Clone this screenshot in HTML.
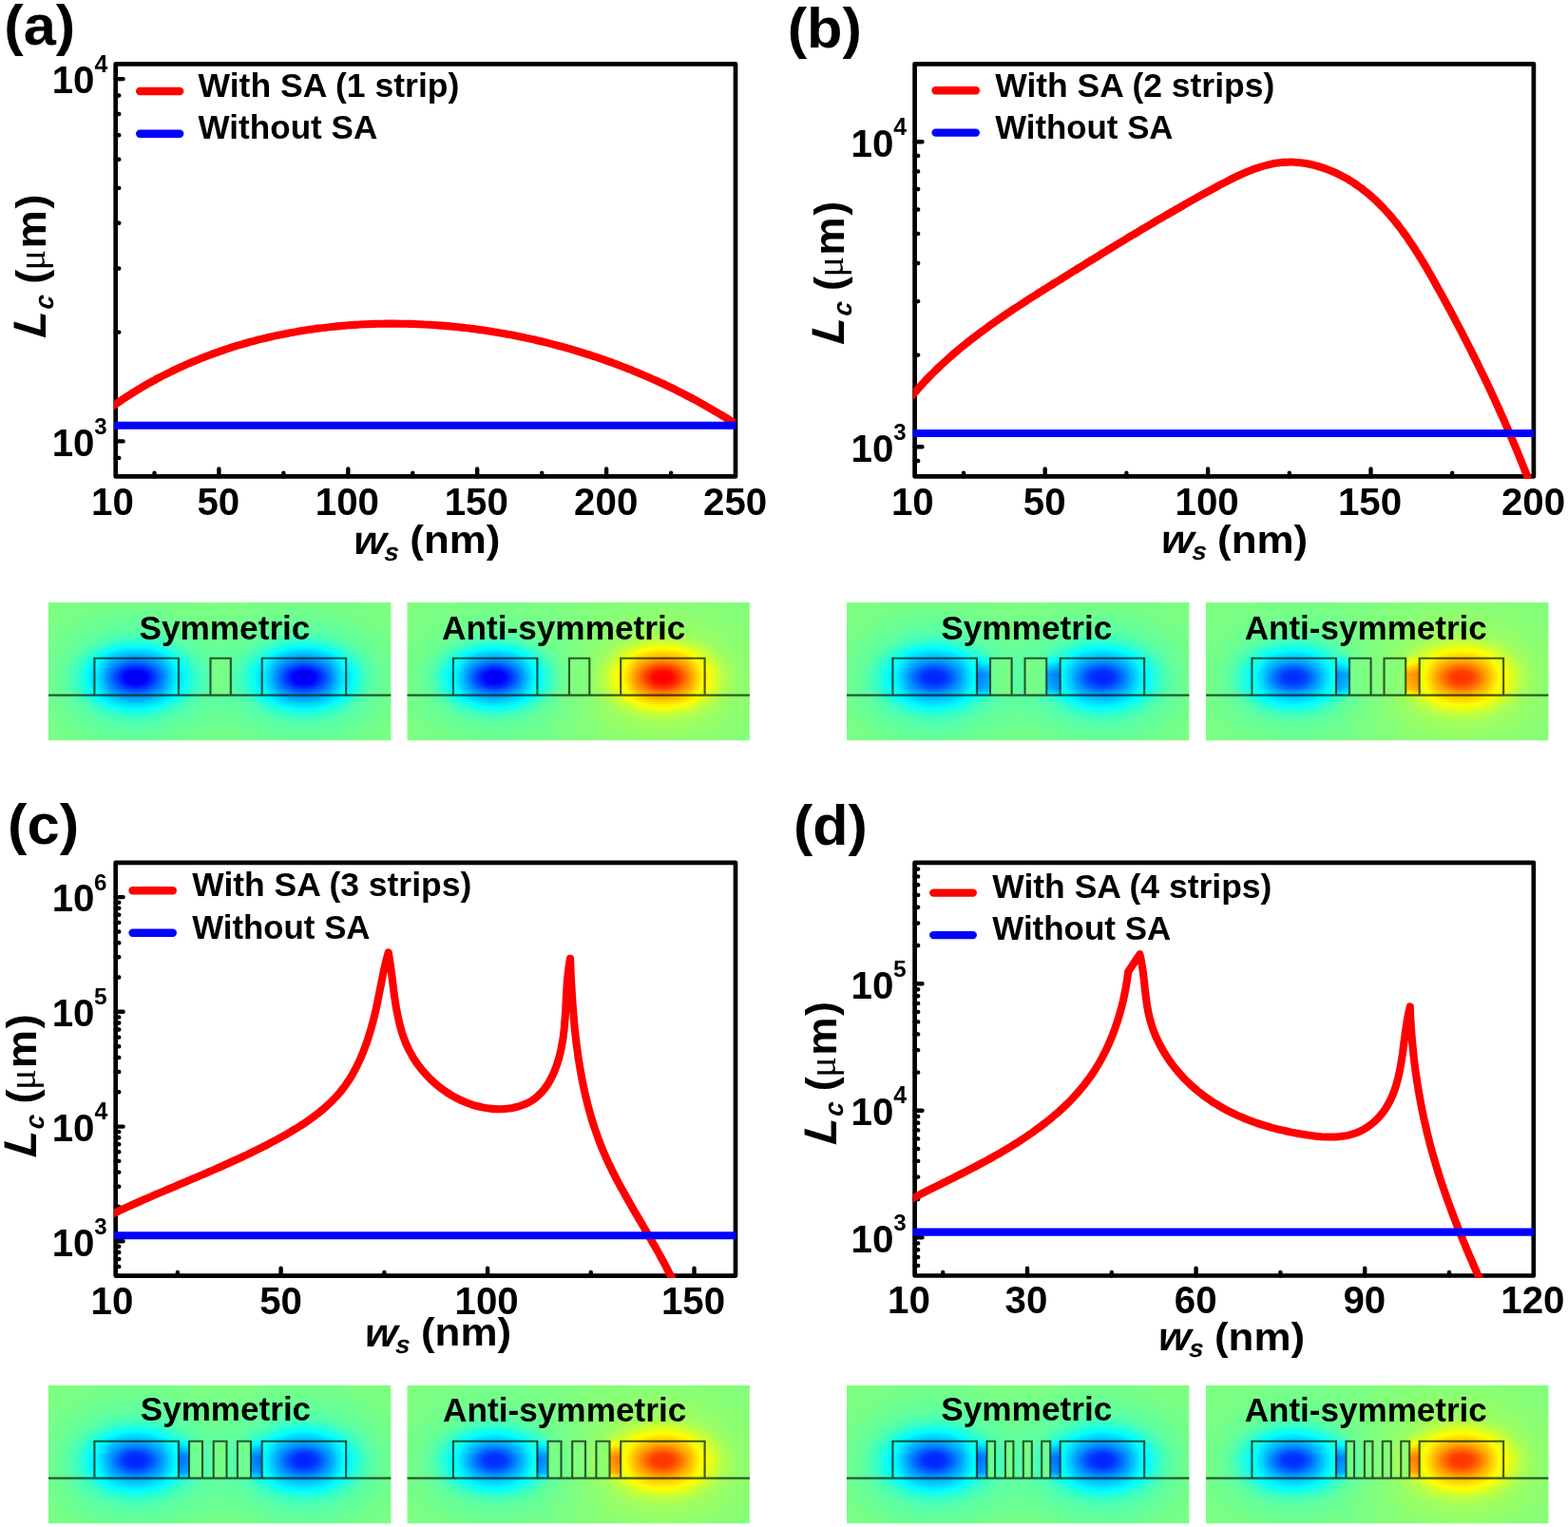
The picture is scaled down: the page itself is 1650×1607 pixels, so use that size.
<!DOCTYPE html>
<html lang="en"><head><meta charset="utf-8"><title>Coupling length versus strip width</title>
<style>html,body{margin:0;padding:0;background:#fff}svg{display:block}text{white-space:pre}</style></head><body>
<svg width="1650" height="1607" viewBox="0 0 1650 1607">
<rect width="1650" height="1607" fill="#fff"/>
<defs>
<filter id="jet" x="0" y="0" width="1" height="1" color-interpolation-filters="sRGB"><feComponentTransfer><feFuncR type="table" tableValues="0.000 0.000 0.000 0.000 0.000 0.000 0.000 0.250 0.500 0.750 1.000 1.000 1.000 1.000 1.000 0.750 0.500"/><feFuncG type="table" tableValues="0.000 0.000 0.000 0.250 0.500 0.750 1.000 1.000 1.000 1.000 1.000 0.750 0.500 0.250 0.000 0.000 0.000"/><feFuncB type="table" tableValues="0.500 0.750 1.000 1.000 1.000 1.000 1.000 0.750 0.500 0.250 0.000 0.000 0.000 0.000 0.000 0.000 0.000"/></feComponentTransfer></filter>
<radialGradient id="gneg" cx="0.5" cy="0.5" r="0.5">
<stop offset="0.000" stop-color="#000" stop-opacity="0.740"/>
<stop offset="0.075" stop-color="#000" stop-opacity="0.735"/>
<stop offset="0.138" stop-color="#000" stop-opacity="0.710"/>
<stop offset="0.225" stop-color="#000" stop-opacity="0.600"/>
<stop offset="0.338" stop-color="#000" stop-opacity="0.440"/>
<stop offset="0.450" stop-color="#000" stop-opacity="0.325"/>
<stop offset="0.575" stop-color="#000" stop-opacity="0.220"/>
<stop offset="0.662" stop-color="#000" stop-opacity="0.152"/>
<stop offset="0.738" stop-color="#000" stop-opacity="0.090"/>
<stop offset="0.850" stop-color="#000" stop-opacity="0.032"/>
<stop offset="1.000" stop-color="#000" stop-opacity="0.000"/>
</radialGradient>
<radialGradient id="gneg-tail" cx="0.5" cy="0.5" r="0.5">
<stop offset="0.000" stop-color="#000" stop-opacity="0.170"/>
<stop offset="0.053" stop-color="#000" stop-opacity="0.167"/>
<stop offset="0.105" stop-color="#000" stop-opacity="0.158"/>
<stop offset="0.158" stop-color="#000" stop-opacity="0.145"/>
<stop offset="0.210" stop-color="#000" stop-opacity="0.128"/>
<stop offset="0.263" stop-color="#000" stop-opacity="0.108"/>
<stop offset="0.316" stop-color="#000" stop-opacity="0.089"/>
<stop offset="0.368" stop-color="#000" stop-opacity="0.070"/>
<stop offset="0.421" stop-color="#000" stop-opacity="0.053"/>
<stop offset="0.474" stop-color="#000" stop-opacity="0.038"/>
<stop offset="0.526" stop-color="#000" stop-opacity="0.026"/>
<stop offset="0.579" stop-color="#000" stop-opacity="0.018"/>
<stop offset="0.632" stop-color="#000" stop-opacity="0.011"/>
<stop offset="0.684" stop-color="#000" stop-opacity="0.007"/>
<stop offset="0.737" stop-color="#000" stop-opacity="0.004"/>
<stop offset="0.789" stop-color="#000" stop-opacity="0.002"/>
<stop offset="0.842" stop-color="#000" stop-opacity="0.001"/>
<stop offset="0.895" stop-color="#000" stop-opacity="0.000"/>
<stop offset="0.947" stop-color="#000" stop-opacity="0.000"/>
<stop offset="1.000" stop-color="#000" stop-opacity="0.000"/>
</radialGradient>
<linearGradient id="gneg-gap" x1="0" y1="0" x2="0" y2="1">
<stop offset="0.000" stop-color="#000" stop-opacity="0.000"/>
<stop offset="0.150" stop-color="#000" stop-opacity="0.250"/>
<stop offset="0.500" stop-color="#000" stop-opacity="1.000"/>
<stop offset="0.850" stop-color="#000" stop-opacity="0.800"/>
<stop offset="1.000" stop-color="#000" stop-opacity="0.300"/>
</linearGradient>
<radialGradient id="gpos" cx="0.5" cy="0.5" r="0.5">
<stop offset="0.000" stop-color="#fff" stop-opacity="0.740"/>
<stop offset="0.075" stop-color="#fff" stop-opacity="0.735"/>
<stop offset="0.138" stop-color="#fff" stop-opacity="0.710"/>
<stop offset="0.225" stop-color="#fff" stop-opacity="0.600"/>
<stop offset="0.338" stop-color="#fff" stop-opacity="0.440"/>
<stop offset="0.450" stop-color="#fff" stop-opacity="0.325"/>
<stop offset="0.575" stop-color="#fff" stop-opacity="0.220"/>
<stop offset="0.662" stop-color="#fff" stop-opacity="0.152"/>
<stop offset="0.738" stop-color="#fff" stop-opacity="0.090"/>
<stop offset="0.850" stop-color="#fff" stop-opacity="0.032"/>
<stop offset="1.000" stop-color="#fff" stop-opacity="0.000"/>
</radialGradient>
<radialGradient id="gpos-tail" cx="0.5" cy="0.5" r="0.5">
<stop offset="0.000" stop-color="#fff" stop-opacity="0.170"/>
<stop offset="0.053" stop-color="#fff" stop-opacity="0.167"/>
<stop offset="0.105" stop-color="#fff" stop-opacity="0.158"/>
<stop offset="0.158" stop-color="#fff" stop-opacity="0.145"/>
<stop offset="0.210" stop-color="#fff" stop-opacity="0.128"/>
<stop offset="0.263" stop-color="#fff" stop-opacity="0.108"/>
<stop offset="0.316" stop-color="#fff" stop-opacity="0.089"/>
<stop offset="0.368" stop-color="#fff" stop-opacity="0.070"/>
<stop offset="0.421" stop-color="#fff" stop-opacity="0.053"/>
<stop offset="0.474" stop-color="#fff" stop-opacity="0.038"/>
<stop offset="0.526" stop-color="#fff" stop-opacity="0.026"/>
<stop offset="0.579" stop-color="#fff" stop-opacity="0.018"/>
<stop offset="0.632" stop-color="#fff" stop-opacity="0.011"/>
<stop offset="0.684" stop-color="#fff" stop-opacity="0.007"/>
<stop offset="0.737" stop-color="#fff" stop-opacity="0.004"/>
<stop offset="0.789" stop-color="#fff" stop-opacity="0.002"/>
<stop offset="0.842" stop-color="#fff" stop-opacity="0.001"/>
<stop offset="0.895" stop-color="#fff" stop-opacity="0.000"/>
<stop offset="0.947" stop-color="#fff" stop-opacity="0.000"/>
<stop offset="1.000" stop-color="#fff" stop-opacity="0.000"/>
</radialGradient>
<linearGradient id="gpos-gap" x1="0" y1="0" x2="0" y2="1">
<stop offset="0.000" stop-color="#fff" stop-opacity="0.000"/>
<stop offset="0.150" stop-color="#fff" stop-opacity="0.250"/>
<stop offset="0.500" stop-color="#fff" stop-opacity="1.000"/>
<stop offset="0.850" stop-color="#fff" stop-opacity="0.800"/>
<stop offset="1.000" stop-color="#fff" stop-opacity="0.300"/>
</linearGradient>
<linearGradient id="wgdamp" x1="0" y1="0" x2="1" y2="0">
<stop offset="0.000" stop-color="#808080" stop-opacity="0.200"/>
<stop offset="0.080" stop-color="#808080" stop-opacity="0.120"/>
<stop offset="0.200" stop-color="#808080" stop-opacity="0.000"/>
<stop offset="0.800" stop-color="#808080" stop-opacity="0.000"/>
<stop offset="0.920" stop-color="#808080" stop-opacity="0.120"/>
<stop offset="1.000" stop-color="#808080" stop-opacity="0.200"/>
</linearGradient>
</defs>
<g id="panel-a">
<clipPath id="clipa"><rect x="119.9" y="67.3" width="654.3" height="436.4"/></clipPath>
<path d="M230.4 501.4v-7.9M366.3 501.4v-7.9M502.2 501.4v-7.9M638.1 501.4v-7.9M162.5 501.4v-3.6M298.4 501.4v-3.6M434.3 501.4v-3.6M570.2 501.4v-3.6M706.1 501.4v-3.6M121.7 481.9h3.6M121.7 464.4h7.9M121.7 349.6h3.6M121.7 282.5h3.6M121.7 234.8h3.6M121.7 197.9h3.6M121.7 167.7h3.6M121.7 142.2h3.6M121.7 120.0h3.6M121.7 100.5h3.6M121.7 83.1h7.9" stroke="#000" stroke-width="4.4" stroke-linecap="round" fill="none"/>
<rect x="121.7" y="67.3" width="652.3" height="434.1" fill="none" stroke="#000" stroke-width="4.7" stroke-linejoin="round"/>
<g clip-path="url(#clipa)" fill="none" stroke-linejoin="round" stroke-miterlimit="4">
<path d="M118.0 427.8L122.0 425.1C122.9 424.5 125.4 422.8 127.1 421.6C128.8 420.5 130.5 419.3 132.2 418.2C134.0 417.1 135.7 416.0 137.4 414.9C139.1 413.8 140.9 412.7 142.6 411.6C144.4 410.5 146.1 409.5 147.9 408.4C149.6 407.4 151.4 406.4 153.2 405.3C154.9 404.3 156.7 403.3 158.5 402.3C160.3 401.3 162.1 400.4 163.8 399.4C165.6 398.4 167.4 397.5 169.2 396.5C171.0 395.6 172.8 394.7 174.7 393.8C176.5 392.8 178.3 391.9 180.1 391.1C181.9 390.2 183.8 389.3 185.6 388.4C187.4 387.6 189.3 386.7 191.1 385.9C192.9 385.0 194.8 384.2 196.6 383.4C198.5 382.6 200.3 381.8 202.2 381.0C204.1 380.2 205.9 379.4 207.8 378.7C209.7 377.9 211.6 377.2 213.4 376.4C215.3 375.7 217.2 374.9 219.1 374.2C221.0 373.5 222.9 372.8 224.8 372.1C226.7 371.4 228.6 370.8 230.5 370.1C232.4 369.4 234.3 368.8 236.2 368.1C238.1 367.5 240.0 366.9 241.9 366.2C243.9 365.6 245.8 365.0 247.7 364.4C249.7 363.8 251.6 363.2 253.5 362.7C255.5 362.1 257.4 361.5 259.3 361.0C261.3 360.4 263.2 359.9 265.2 359.4C267.1 358.9 269.1 358.4 271.0 357.8C273.0 357.3 275.0 356.9 276.9 356.4C278.9 355.9 280.8 355.4 282.8 355.0C284.8 354.5 286.7 354.1 288.7 353.6C290.7 353.2 292.7 352.8 294.7 352.4C296.6 352.0 298.6 351.6 300.6 351.2C302.6 350.8 304.6 350.4 306.6 350.1C308.6 349.7 310.5 349.3 312.5 349.0C314.5 348.6 316.5 348.3 318.5 348.0C320.5 347.7 322.5 347.4 324.5 347.1C326.5 346.8 328.5 346.5 330.5 346.2C332.6 345.9 334.6 345.6 336.6 345.4C338.6 345.1 340.6 344.9 342.6 344.7C344.6 344.4 346.6 344.2 348.7 344.0C350.7 343.8 352.7 343.6 354.7 343.4C356.7 343.2 358.8 343.0 360.8 342.8C362.8 342.6 364.8 342.5 366.9 342.3C368.9 342.2 370.9 342.0 373.0 341.9C375.0 341.8 377.0 341.6 379.0 341.5C381.1 341.4 383.1 341.3 385.1 341.2C387.2 341.1 389.2 341.1 391.2 341.0C393.3 340.9 395.3 340.9 397.3 340.8C399.4 340.8 401.4 340.7 403.5 340.7C405.5 340.7 407.5 340.6 409.6 340.6C411.6 340.6 413.6 340.6 415.7 340.6C417.7 340.6 419.8 340.6 421.8 340.7C423.8 340.7 425.9 340.7 427.9 340.8C430.0 340.8 432.0 340.9 434.0 340.9C436.1 341.0 438.1 341.1 440.1 341.2C442.2 341.3 444.2 341.3 446.3 341.5C448.3 341.6 450.3 341.7 452.4 341.8C454.4 341.9 456.4 342.0 458.5 342.2C460.5 342.3 462.6 342.5 464.6 342.6C466.6 342.8 468.7 343.0 470.7 343.1C472.7 343.3 474.8 343.5 476.8 343.7C478.8 343.9 480.9 344.1 482.9 344.3C484.9 344.5 486.9 344.8 489.0 345.0C491.0 345.2 493.0 345.5 495.1 345.7C497.1 346.0 499.1 346.2 501.1 346.5C503.2 346.8 505.2 347.0 507.2 347.3C509.2 347.6 511.2 347.9 513.3 348.2C515.3 348.5 517.3 348.8 519.3 349.2C521.3 349.5 523.3 349.8 525.4 350.2C527.4 350.5 529.4 350.9 531.4 351.2C533.4 351.6 535.4 352.0 537.4 352.3C539.4 352.7 541.4 353.1 543.4 353.5C545.4 353.9 547.4 354.3 549.4 354.7C551.4 355.1 553.4 355.6 555.4 356.0C557.4 356.4 559.4 356.9 561.4 357.3C563.4 357.8 565.4 358.2 567.4 358.7C569.3 359.2 571.3 359.6 573.3 360.1C575.3 360.6 577.3 361.1 579.2 361.6C581.2 362.1 583.2 362.6 585.2 363.2C587.1 363.7 589.1 364.2 591.1 364.7C593.0 365.3 595.0 365.8 597.0 366.4C598.9 366.9 600.9 367.5 602.8 368.1C604.8 368.7 606.8 369.2 608.7 369.8C610.7 370.4 612.6 371.0 614.5 371.6C616.5 372.2 618.4 372.9 620.4 373.5C622.3 374.1 624.2 374.8 626.2 375.4C628.1 376.0 630.0 376.7 632.0 377.4C633.9 378.0 635.8 378.7 637.7 379.4C639.6 380.0 641.6 380.7 643.5 381.4C645.4 382.1 647.3 382.8 649.2 383.5C651.1 384.3 653.0 385.0 654.9 385.7C656.8 386.4 658.7 387.2 660.6 387.9C662.5 388.7 664.4 389.4 666.2 390.2C668.1 390.9 670.0 391.7 671.9 392.5C673.8 393.3 675.6 394.1 677.5 394.9C679.4 395.7 681.2 396.5 683.1 397.3C684.9 398.1 686.8 398.9 688.6 399.8C690.5 400.6 692.3 401.4 694.2 402.3C696.0 403.1 697.9 404.0 699.7 404.8C701.5 405.7 703.3 406.6 705.2 407.5C707.0 408.3 708.8 409.2 710.6 410.1C712.4 411.0 714.3 411.9 716.1 412.9C717.9 413.8 719.7 414.7 721.5 415.6C723.3 416.6 725.0 417.5 726.8 418.4C728.6 419.4 730.4 420.3 732.2 421.3C734.0 422.3 735.7 423.2 737.5 424.2C739.3 425.2 741.0 426.2 742.8 427.2C744.5 428.2 746.3 429.2 748.0 430.2C749.8 431.2 751.5 432.2 753.2 433.3C755.0 434.3 756.7 435.3 758.4 436.4C760.2 437.4 761.9 438.5 763.6 439.5C765.3 440.6 767.0 441.7 768.7 442.7C770.4 443.8 773.0 445.5 773.8 446.0" stroke="#ff0000" stroke-width="8.1"/>
<path d="M118.7 447.7H777.0" stroke="#0000ff" stroke-width="8.1"/>
</g>
<g fill="#000">
<text transform="translate(96.03 541.90) scale(0.9900 1)" font-family="Liberation Sans, Arial, Helvetica, sans-serif" font-weight="bold" font-size="40.70">10</text>
<text transform="translate(207.46 541.90) scale(0.9900 1)" font-family="Liberation Sans, Arial, Helvetica, sans-serif" font-weight="bold" font-size="40.70">50</text>
<text transform="translate(331.76 541.90) scale(0.9900 1)" font-family="Liberation Sans, Arial, Helvetica, sans-serif" font-weight="bold" font-size="40.70">100</text>
<text transform="translate(467.66 541.90) scale(0.9900 1)" font-family="Liberation Sans, Arial, Helvetica, sans-serif" font-weight="bold" font-size="40.70">150</text>
<text transform="translate(604.11 541.90) scale(0.9900 1)" font-family="Liberation Sans, Arial, Helvetica, sans-serif" font-weight="bold" font-size="40.70">200</text>
<text transform="translate(740.01 541.90) scale(0.9900 1)" font-family="Liberation Sans, Arial, Helvetica, sans-serif" font-weight="bold" font-size="40.70">250</text>
<text transform="translate(54.69 479.74) scale(0.9900 1)" font-family="Liberation Sans, Arial, Helvetica, sans-serif" font-weight="bold" font-size="40.70">10<tspan x="45.02" y="-22.90" font-family="Liberation Sans, Arial, Helvetica, sans-serif" font-weight="bold" font-size="24.37">3</tspan></text>
<text transform="translate(54.69 98.39) scale(0.9900 1)" font-family="Liberation Sans, Arial, Helvetica, sans-serif" font-weight="bold" font-size="40.70">10<tspan x="45.19" y="-22.60" font-family="Liberation Sans, Arial, Helvetica, sans-serif" font-weight="bold" font-size="25.16">4</tspan></text>
</g>
<g fill="none" stroke-linecap="round" stroke-width="8.4">
<path d="M147.2 96.0H189.2" stroke="#ff0000"/>
<path d="M147.2 140.7H189.2" stroke="#0000ff"/>
</g>
<g fill="#000">
<text transform="translate(208.50 102.10) scale(1.0017 1)" font-family="Liberation Sans, Arial, Helvetica, sans-serif" font-weight="bold" font-size="35.50">With SA (1 strip)</text>
<text transform="translate(208.50 146.40) scale(0.9889 1)" font-family="Liberation Sans, Arial, Helvetica, sans-serif" font-weight="bold" font-size="35.50">Without SA</text>
<text transform="translate(4.23 46.70) scale(1.0404 1)" font-family="Liberation Sans, Arial, Helvetica, sans-serif" font-weight="bold" font-size="59.00">(a)</text>
<text transform="translate(371.26 582.70) scale(1.0427 1) skewX(-4.00)" font-family="Liberation Sans, Arial, Helvetica, sans-serif" font-weight="bold" font-style="italic" font-size="42.09">w<tspan x="32.02" y="7.34" font-family="Liberation Sans, Arial, Helvetica, sans-serif" font-weight="bold" font-style="italic" font-size="26.48">s</tspan></text>
<text transform="translate(431.30 582.19) scale(1.0583 1)" font-family="Liberation Sans, Arial, Helvetica, sans-serif" font-weight="bold" font-size="41.50">(nm)</text>
<text transform="translate(48.20 355.91) rotate(-90) scale(0.9403 1) skewX(-7.50)" font-family="Liberation Sans, Arial, Helvetica, sans-serif" font-weight="bold" font-style="italic" font-size="48.58">L<tspan x="32.56" y="7.42" font-family="Liberation Sans, Arial, Helvetica, sans-serif" font-weight="bold" font-style="italic" font-size="28.31">c</tspan></text>
<text transform="translate(47.64 298.86) rotate(-90) scale(1.0133 1)" font-family="Liberation Sans, Arial, Helvetica, sans-serif" font-weight="bold" font-size="44.61">(<tspan x="14.25" y="-0.28" font-family="Liberation Serif, Times New Roman, serif" font-weight="normal" font-size="39.70">μ</tspan><tspan x="36.83" y="0.36" font-family="Liberation Sans, Arial, Helvetica, sans-serif" font-weight="bold" font-size="44.65">m</tspan><tspan x="78.21" y="0.00" font-family="Liberation Sans, Arial, Helvetica, sans-serif" font-weight="bold" font-size="44.61">)</tspan></text>
</g>
</g>
<g id="panel-b">
<clipPath id="clipb"><rect x="960.8" y="67.3" width="653.3" height="436.4"/></clipPath>
<path d="M1099.7 501.4v-7.9M1271.1 501.4v-7.9M1442.5 501.4v-7.9M1014.0 501.4v-3.6M1185.4 501.4v-3.6M1356.8 501.4v-3.6M1528.2 501.4v-3.6M962.6 485.0h3.6M962.6 470.3h7.9M962.6 373.6h3.6M962.6 317.1h3.6M962.6 277.0h3.6M962.6 245.9h3.6M962.6 220.5h3.6M962.6 199.0h3.6M962.6 180.4h3.6M962.6 163.9h3.6M962.6 149.3h7.9" stroke="#000" stroke-width="4.4" stroke-linecap="round" fill="none"/>
<rect x="962.6" y="67.3" width="651.3" height="434.1" fill="none" stroke="#000" stroke-width="4.7" stroke-linejoin="round"/>
<g clip-path="url(#clipb)" fill="none" stroke-linejoin="round" stroke-miterlimit="4">
<path d="M958.6 417.8L962.6 413.2C963.3 412.4 965.3 410.1 966.6 408.6C967.9 407.1 969.3 405.6 970.7 404.1C972.0 402.6 973.4 401.1 974.8 399.6C976.2 398.1 977.6 396.7 979.0 395.2C980.5 393.8 981.9 392.4 983.3 391.0C984.8 389.5 986.2 388.1 987.7 386.7C989.2 385.3 990.6 384.0 992.1 382.6C993.6 381.2 995.1 379.8 996.6 378.5C998.1 377.1 999.6 375.8 1001.1 374.5C1002.7 373.2 1004.2 371.8 1005.7 370.5C1007.3 369.2 1008.8 367.9 1010.4 366.6C1011.9 365.3 1013.5 364.1 1015.1 362.8C1016.7 361.5 1018.2 360.3 1019.8 359.0C1021.4 357.8 1023.0 356.5 1024.6 355.3C1026.2 354.0 1027.8 352.8 1029.5 351.6C1031.1 350.4 1032.7 349.2 1034.3 348.0C1036.0 346.8 1037.6 345.6 1039.2 344.4C1040.9 343.2 1042.5 342.0 1044.2 340.8C1045.8 339.7 1047.5 338.5 1049.2 337.3C1050.8 336.2 1052.5 335.0 1054.2 333.9C1055.8 332.7 1057.5 331.6 1059.2 330.4C1060.9 329.3 1062.6 328.2 1064.2 327.0C1065.9 325.9 1067.6 324.8 1069.3 323.7C1071.0 322.6 1072.7 321.4 1074.4 320.3C1076.1 319.2 1077.8 318.1 1079.5 317.0C1081.2 315.9 1082.9 314.8 1084.6 313.7C1086.3 312.6 1088.1 311.5 1089.8 310.5C1091.5 309.4 1093.2 308.3 1094.9 307.2C1096.6 306.1 1098.3 305.0 1100.0 304.0C1101.8 302.9 1103.5 301.8 1105.2 300.7C1106.9 299.7 1108.6 298.6 1110.3 297.5C1112.0 296.5 1113.8 295.4 1115.5 294.3C1117.2 293.2 1118.9 292.2 1120.6 291.1C1122.3 290.0 1124.0 289.0 1125.7 287.9C1127.4 286.9 1129.2 285.8 1130.9 284.7C1132.6 283.7 1134.3 282.6 1136.0 281.5C1137.7 280.5 1139.4 279.4 1141.1 278.4C1142.8 277.3 1144.5 276.3 1146.2 275.2C1147.9 274.1 1149.6 273.1 1151.4 272.0C1153.1 271.0 1154.8 269.9 1156.5 268.9C1158.2 267.8 1159.9 266.8 1161.6 265.7C1163.3 264.7 1165.0 263.6 1166.7 262.6C1168.4 261.5 1170.2 260.5 1171.9 259.4C1173.6 258.4 1175.3 257.4 1177.0 256.3C1178.7 255.3 1180.4 254.2 1182.2 253.2C1183.9 252.2 1185.6 251.1 1187.3 250.1C1189.0 249.0 1190.8 248.0 1192.5 247.0C1194.2 245.9 1195.9 244.9 1197.6 243.9C1199.4 242.8 1201.1 241.8 1202.8 240.8C1204.6 239.8 1206.3 238.7 1208.0 237.7C1209.8 236.7 1211.5 235.7 1213.2 234.6C1215.0 233.6 1216.7 232.6 1218.4 231.6C1220.2 230.5 1221.9 229.5 1223.7 228.5C1225.4 227.5 1227.2 226.5 1228.9 225.5C1230.7 224.4 1232.4 223.4 1234.2 222.4C1235.9 221.4 1237.7 220.4 1239.5 219.4C1241.2 218.4 1243.0 217.4 1244.8 216.4C1246.5 215.3 1248.3 214.3 1250.1 213.3C1251.8 212.3 1253.6 211.3 1255.4 210.3C1257.2 209.3 1259.0 208.3 1260.8 207.3C1262.5 206.3 1264.3 205.3 1266.1 204.3C1267.9 203.3 1269.7 202.3 1271.5 201.4C1273.3 200.4 1275.1 199.4 1277.0 198.4C1278.8 197.4 1280.6 196.4 1282.4 195.4C1284.2 194.4 1286.0 193.5 1287.9 192.5C1289.7 191.5 1291.5 190.6 1293.4 189.6C1295.2 188.7 1297.1 187.8 1298.9 186.9C1300.7 186.0 1302.6 185.1 1304.5 184.3C1306.3 183.4 1308.2 182.6 1310.1 181.8C1311.9 181.0 1313.8 180.2 1315.7 179.5C1317.6 178.7 1319.5 178.0 1321.4 177.3C1323.2 176.7 1325.2 176.1 1327.1 175.5C1329.0 174.9 1330.9 174.3 1332.8 173.9C1334.7 173.4 1336.7 172.9 1338.6 172.5C1340.5 172.1 1342.5 171.8 1344.4 171.5C1346.4 171.3 1348.4 171.0 1350.3 170.9C1352.3 170.7 1354.3 170.6 1356.3 170.6C1358.2 170.5 1360.2 170.6 1362.2 170.7C1364.2 170.8 1366.2 171.0 1368.2 171.2C1370.3 171.4 1372.3 171.7 1374.3 172.0C1376.3 172.4 1378.3 172.8 1380.3 173.3C1382.3 173.7 1384.2 174.2 1386.2 174.8C1388.2 175.3 1390.1 176.0 1392.1 176.6C1394.0 177.3 1396.0 178.0 1397.9 178.7C1399.8 179.4 1401.6 180.2 1403.5 181.0C1405.3 181.8 1407.2 182.7 1409.0 183.6C1410.8 184.5 1412.6 185.4 1414.3 186.4C1416.1 187.3 1417.8 188.3 1419.5 189.3C1421.2 190.4 1422.9 191.4 1424.5 192.5C1426.2 193.6 1427.8 194.7 1429.4 195.9C1431.1 197.0 1432.6 198.2 1434.2 199.4C1435.8 200.6 1437.3 201.8 1438.9 203.1C1440.4 204.4 1441.9 205.6 1443.4 207.0C1444.9 208.3 1446.3 209.6 1447.8 211.0C1449.2 212.3 1450.6 213.7 1452.0 215.1C1453.5 216.6 1454.8 218.0 1456.2 219.5C1457.6 220.9 1458.9 222.4 1460.3 223.9C1461.6 225.4 1462.9 226.9 1464.2 228.4C1465.5 230.0 1466.8 231.5 1468.1 233.1C1469.4 234.7 1470.6 236.3 1471.9 237.9C1473.1 239.5 1474.4 241.1 1475.6 242.8C1476.8 244.4 1478.0 246.1 1479.2 247.7C1480.4 249.4 1481.5 251.1 1482.7 252.8C1483.9 254.5 1485.0 256.2 1486.1 257.9C1487.3 259.6 1488.4 261.3 1489.5 263.1C1490.6 264.8 1491.7 266.6 1492.8 268.3C1493.9 270.1 1495.0 271.8 1496.1 273.6C1497.2 275.4 1498.2 277.2 1499.3 278.9C1500.4 280.7 1501.4 282.5 1502.4 284.3C1503.5 286.1 1504.5 287.9 1505.6 289.7C1506.6 291.5 1507.6 293.3 1508.6 295.1C1509.6 296.9 1510.6 298.7 1511.6 300.5C1512.6 302.3 1513.6 304.1 1514.6 305.9C1515.6 307.7 1516.6 309.5 1517.6 311.3C1518.6 313.1 1519.6 314.9 1520.5 316.7C1521.5 318.5 1522.5 320.2 1523.5 322.0C1524.4 323.8 1525.4 325.6 1526.3 327.4C1527.3 329.2 1528.3 331.0 1529.2 332.8C1530.2 334.6 1531.1 336.3 1532.0 338.1C1533.0 339.9 1533.9 341.7 1534.9 343.5C1535.8 345.3 1536.7 347.0 1537.7 348.8C1538.6 350.6 1539.5 352.4 1540.4 354.2C1541.3 356.0 1542.3 357.7 1543.2 359.5C1544.1 361.3 1545.0 363.1 1545.9 364.9C1546.8 366.6 1547.7 368.4 1548.6 370.2C1549.5 372.0 1550.4 373.8 1551.3 375.6C1552.2 377.4 1553.0 379.1 1553.9 380.9C1554.8 382.7 1555.7 384.5 1556.6 386.3C1557.4 388.1 1558.3 389.9 1559.2 391.7C1560.0 393.4 1560.9 395.2 1561.8 397.0C1562.6 398.8 1563.5 400.6 1564.3 402.4C1565.2 404.2 1566.0 406.0 1566.9 407.8C1567.7 409.6 1568.6 411.4 1569.4 413.2C1570.3 415.0 1571.1 416.8 1571.9 418.6C1572.8 420.5 1573.6 422.3 1574.4 424.1C1575.2 425.9 1576.1 427.7 1576.9 429.5C1577.7 431.4 1578.5 433.2 1579.3 435.0C1580.2 436.8 1581.0 438.7 1581.8 440.5C1582.6 442.3 1583.4 444.2 1584.2 446.0C1585.0 447.8 1585.8 449.7 1586.6 451.5C1587.4 453.4 1588.2 455.2 1589.0 457.1C1589.8 458.9 1590.6 460.8 1591.4 462.6C1592.2 464.5 1592.9 466.4 1593.7 468.2C1594.5 470.1 1595.3 472.0 1596.1 473.8C1596.8 475.7 1597.6 477.6 1598.4 479.5C1599.1 481.4 1599.9 483.3 1600.7 485.2C1601.4 487.1 1602.2 489.0 1603.0 490.9C1603.7 492.8 1604.5 494.7 1605.3 496.6C1606.0 498.5 1606.8 500.4 1607.5 502.4C1608.3 504.3 1609.0 506.2 1609.8 508.2C1610.5 510.1 1611.6 513.0 1612.0 514.0" stroke="#ff0000" stroke-width="8.1"/>
<path d="M959.6 456.0H1616.9" stroke="#0000ff" stroke-width="8.1"/>
</g>
<g fill="#000">
<text transform="translate(937.88 541.90) scale(0.9900 1)" font-family="Liberation Sans, Arial, Helvetica, sans-serif" font-weight="bold" font-size="40.70">10</text>
<text transform="translate(1076.75 541.90) scale(0.9900 1)" font-family="Liberation Sans, Arial, Helvetica, sans-serif" font-weight="bold" font-size="40.70">50</text>
<text transform="translate(1236.56 541.90) scale(0.9900 1)" font-family="Liberation Sans, Arial, Helvetica, sans-serif" font-weight="bold" font-size="40.70">100</text>
<text transform="translate(1407.96 541.90) scale(0.9900 1)" font-family="Liberation Sans, Arial, Helvetica, sans-serif" font-weight="bold" font-size="40.70">150</text>
<text transform="translate(1579.91 541.90) scale(0.9900 1)" font-family="Liberation Sans, Arial, Helvetica, sans-serif" font-weight="bold" font-size="40.70">200</text>
<text transform="translate(895.59 485.59) scale(0.9900 1)" font-family="Liberation Sans, Arial, Helvetica, sans-serif" font-weight="bold" font-size="40.70">10<tspan x="45.02" y="-22.90" font-family="Liberation Sans, Arial, Helvetica, sans-serif" font-weight="bold" font-size="24.37">3</tspan></text>
<text transform="translate(895.59 164.55) scale(0.9900 1)" font-family="Liberation Sans, Arial, Helvetica, sans-serif" font-weight="bold" font-size="40.70">10<tspan x="45.19" y="-22.60" font-family="Liberation Sans, Arial, Helvetica, sans-serif" font-weight="bold" font-size="25.16">4</tspan></text>
</g>
<g fill="none" stroke-linecap="round" stroke-width="8.4">
<path d="M984.6 95.3H1026.8" stroke="#ff0000"/>
<path d="M984.6 139.6H1026.8" stroke="#0000ff"/>
</g>
<g fill="#000">
<text transform="translate(1047.20 101.50) scale(0.9999 1)" font-family="Liberation Sans, Arial, Helvetica, sans-serif" font-weight="bold" font-size="35.50">With SA (2 strips)</text>
<text transform="translate(1047.20 145.80) scale(0.9815 1)" font-family="Liberation Sans, Arial, Helvetica, sans-serif" font-weight="bold" font-size="35.50">Without SA</text>
<text transform="translate(828.64 50.00) scale(1.0378 1)" font-family="Liberation Sans, Arial, Helvetica, sans-serif" font-weight="bold" font-size="59.00">(b)</text>
<text transform="translate(1221.06 582.10) scale(1.0427 1) skewX(-4.00)" font-family="Liberation Sans, Arial, Helvetica, sans-serif" font-weight="bold" font-style="italic" font-size="42.09">w<tspan x="32.02" y="7.34" font-family="Liberation Sans, Arial, Helvetica, sans-serif" font-weight="bold" font-style="italic" font-size="26.48">s</tspan></text>
<text transform="translate(1281.10 581.59) scale(1.0583 1)" font-family="Liberation Sans, Arial, Helvetica, sans-serif" font-weight="bold" font-size="41.50">(nm)</text>
<text transform="translate(888.20 363.01) rotate(-90) scale(0.9403 1) skewX(-7.50)" font-family="Liberation Sans, Arial, Helvetica, sans-serif" font-weight="bold" font-style="italic" font-size="48.58">L<tspan x="32.56" y="7.42" font-family="Liberation Sans, Arial, Helvetica, sans-serif" font-weight="bold" font-style="italic" font-size="28.31">c</tspan></text>
<text transform="translate(887.64 305.96) rotate(-90) scale(1.0133 1)" font-family="Liberation Sans, Arial, Helvetica, sans-serif" font-weight="bold" font-size="44.61">(<tspan x="14.25" y="-0.28" font-family="Liberation Serif, Times New Roman, serif" font-weight="normal" font-size="39.70">μ</tspan><tspan x="36.83" y="0.36" font-family="Liberation Sans, Arial, Helvetica, sans-serif" font-weight="bold" font-size="44.65">m</tspan><tspan x="78.21" y="0.00" font-family="Liberation Sans, Arial, Helvetica, sans-serif" font-weight="bold" font-size="44.61">)</tspan></text>
</g>
</g>
<g id="panel-c">
<clipPath id="clipc"><rect x="119.9" y="907.8" width="654.3" height="437.1"/></clipPath>
<path d="M295.6 1342.6v-7.9M513.1 1342.6v-7.9M730.5 1342.6v-7.9M186.9 1342.6v-3.6M404.4 1342.6v-3.6M621.8 1342.6v-3.6M121.7 1333.0h3.6M121.7 1325.0h3.6M121.7 1318.0h3.6M121.7 1311.8h3.6M121.7 1306.3h7.9M121.7 1269.9h3.6M121.7 1248.7h3.6M121.7 1233.6h3.6M121.7 1221.9h3.6M121.7 1212.3h3.6M121.7 1204.3h3.6M121.7 1197.3h3.6M121.7 1191.1h3.6M121.7 1185.6h7.9M121.7 1149.2h3.6M121.7 1128.0h3.6M121.7 1112.9h3.6M121.7 1101.2h3.6M121.7 1091.6h3.6M121.7 1083.5h3.6M121.7 1076.5h3.6M121.7 1070.4h3.6M121.7 1064.8h7.9M121.7 1028.5h3.6M121.7 1007.3h3.6M121.7 992.2h3.6M121.7 980.5h3.6M121.7 970.9h3.6M121.7 962.8h3.6M121.7 955.8h3.6M121.7 949.7h3.6M121.7 944.1h7.9" stroke="#000" stroke-width="4.4" stroke-linecap="round" fill="none"/>
<rect x="121.7" y="907.8" width="652.3" height="434.8" fill="none" stroke="#000" stroke-width="4.7" stroke-linejoin="round"/>
<g clip-path="url(#clipc)" fill="none" stroke-linejoin="round" stroke-miterlimit="4">
<path d="M118.3 1277.6L122.3 1275.7C123.2 1275.3 126.0 1273.9 127.9 1273.1C129.8 1272.2 131.7 1271.4 133.5 1270.5C135.4 1269.7 137.3 1268.8 139.1 1268.0C141.0 1267.1 142.9 1266.3 144.7 1265.5C146.6 1264.6 148.4 1263.8 150.3 1263.0C152.2 1262.2 154.0 1261.4 155.9 1260.6C157.8 1259.8 159.6 1259.0 161.5 1258.1C163.3 1257.3 165.2 1256.5 167.1 1255.8C168.9 1255.0 170.8 1254.2 172.6 1253.4C174.5 1252.6 176.4 1251.8 178.2 1251.0C180.1 1250.2 181.9 1249.4 183.8 1248.7C185.6 1247.9 187.5 1247.1 189.3 1246.3C191.2 1245.5 193.0 1244.7 194.9 1244.0C196.7 1243.2 198.6 1242.4 200.4 1241.6C202.3 1240.8 204.1 1240.0 206.0 1239.3C207.8 1238.5 209.7 1237.7 211.5 1236.9C213.4 1236.1 215.2 1235.3 217.1 1234.5C218.9 1233.7 220.8 1232.9 222.6 1232.1C224.4 1231.3 226.3 1230.5 228.1 1229.7C230.0 1228.9 231.8 1228.1 233.7 1227.3C235.5 1226.4 237.3 1225.6 239.2 1224.8C241.0 1224.0 242.9 1223.1 244.7 1222.3C246.5 1221.5 248.4 1220.6 250.2 1219.8C252.0 1218.9 253.9 1218.0 255.7 1217.2C257.5 1216.3 259.4 1215.4 261.2 1214.6C263.0 1213.7 264.9 1212.8 266.7 1211.9C268.5 1211.0 270.4 1210.1 272.2 1209.2C274.0 1208.3 275.9 1207.3 277.7 1206.4C279.5 1205.5 281.3 1204.5 283.2 1203.6C285.0 1202.6 286.8 1201.6 288.7 1200.7C290.5 1199.7 292.3 1198.7 294.1 1197.7C295.9 1196.7 297.8 1195.7 299.6 1194.7C301.4 1193.7 303.2 1192.6 305.0 1191.6C306.8 1190.5 308.6 1189.4 310.4 1188.4C312.1 1187.3 313.9 1186.2 315.7 1185.1C317.4 1183.9 319.1 1182.8 320.9 1181.7C322.6 1180.5 324.3 1179.3 326.0 1178.1C327.7 1177.0 329.3 1175.8 331.0 1174.5C332.6 1173.3 334.2 1172.0 335.8 1170.8C337.4 1169.5 339.0 1168.2 340.5 1166.9C342.1 1165.6 343.6 1164.2 345.0 1162.9C346.5 1161.5 348.0 1160.1 349.4 1158.7C350.8 1157.3 352.2 1155.8 353.6 1154.4C354.9 1152.9 356.2 1151.4 357.5 1149.9C358.8 1148.4 360.0 1146.8 361.2 1145.2C362.4 1143.7 363.6 1142.1 364.7 1140.4C365.8 1138.8 366.9 1137.2 368.0 1135.5C369.0 1133.8 370.0 1132.1 371.0 1130.4C372.0 1128.7 373.0 1126.9 373.9 1125.2C374.8 1123.4 375.7 1121.6 376.6 1119.8C377.5 1118.0 378.3 1116.2 379.1 1114.4C380.0 1112.5 380.7 1110.7 381.5 1108.8C382.3 1107.0 383.0 1105.1 383.7 1103.2C384.4 1101.3 385.1 1099.4 385.8 1097.5C386.4 1095.5 387.1 1093.6 387.7 1091.7C388.3 1089.7 388.9 1087.8 389.5 1085.8C390.1 1083.8 390.7 1081.9 391.2 1079.9C391.7 1077.9 392.3 1075.9 392.8 1073.9C393.3 1071.9 393.8 1069.9 394.3 1067.9C394.8 1065.9 395.2 1063.9 395.7 1061.9C396.1 1059.9 396.6 1057.9 397.0 1055.9C397.4 1053.8 397.8 1051.8 398.2 1049.8C398.6 1047.8 399.0 1045.8 399.4 1043.8C399.8 1041.8 400.2 1039.7 400.6 1037.7C401.0 1035.7 401.4 1033.7 401.8 1031.7C402.2 1029.7 402.6 1027.7 403.0 1025.8C403.4 1023.8 403.8 1021.8 404.3 1019.8C404.7 1017.9 405.1 1015.9 405.6 1014.0C406.1 1012.0 406.6 1010.1 407.1 1008.1C407.6 1006.2 408.4 1003.4 408.7 1002.4C408.9 1003.4 409.4 1006.4 409.7 1008.4C410.1 1010.3 410.4 1012.4 410.7 1014.4C411.0 1016.4 411.2 1018.4 411.5 1020.4C411.8 1022.4 412.1 1024.4 412.3 1026.4C412.6 1028.5 412.8 1030.5 413.1 1032.5C413.3 1034.5 413.6 1036.6 413.8 1038.6C414.1 1040.6 414.3 1042.6 414.6 1044.7C414.9 1046.7 415.1 1048.7 415.4 1050.7C415.7 1052.7 416.0 1054.8 416.3 1056.8C416.7 1058.8 417.0 1060.8 417.3 1062.8C417.7 1064.7 418.1 1066.7 418.5 1068.7C418.9 1070.7 419.3 1072.6 419.8 1074.6C420.2 1076.6 420.7 1078.5 421.2 1080.4C421.7 1082.4 422.3 1084.3 422.9 1086.2C423.5 1088.1 424.1 1090.0 424.8 1091.9C425.5 1093.8 426.2 1095.6 426.9 1097.5C427.7 1099.3 428.5 1101.1 429.4 1102.9C430.2 1104.7 431.2 1106.5 432.1 1108.3C433.1 1110.1 434.1 1111.8 435.2 1113.6C436.3 1115.3 437.4 1117.0 438.5 1118.7C439.7 1120.3 440.9 1122.0 442.2 1123.6C443.4 1125.2 444.7 1126.8 446.1 1128.4C447.4 1129.9 448.8 1131.4 450.3 1132.9C451.7 1134.4 453.2 1135.9 454.7 1137.3C456.2 1138.7 457.7 1140.1 459.3 1141.4C460.9 1142.7 462.5 1144.0 464.1 1145.3C465.8 1146.5 467.5 1147.8 469.2 1148.9C470.9 1150.1 472.6 1151.2 474.4 1152.3C476.2 1153.3 478.0 1154.4 479.8 1155.3C481.6 1156.3 483.5 1157.2 485.3 1158.1C487.2 1158.9 489.1 1159.7 491.0 1160.5C493.0 1161.2 494.9 1161.9 496.9 1162.6C498.8 1163.2 500.8 1163.8 502.8 1164.3C504.8 1164.8 506.8 1165.2 508.8 1165.6C510.8 1166.0 512.9 1166.3 514.9 1166.5C517.0 1166.8 519.0 1167.0 521.1 1167.1C523.1 1167.2 525.2 1167.2 527.2 1167.2C529.2 1167.1 531.3 1167.0 533.3 1166.8C535.3 1166.6 537.3 1166.3 539.2 1166.0C541.2 1165.6 543.1 1165.2 545.0 1164.6C546.9 1164.1 548.7 1163.5 550.5 1162.8C552.3 1162.1 554.1 1161.3 555.8 1160.5C557.5 1159.6 559.1 1158.6 560.7 1157.6C562.3 1156.5 563.8 1155.3 565.3 1154.1C566.7 1152.8 568.1 1151.5 569.4 1150.1C570.8 1148.7 572.0 1147.1 573.2 1145.6C574.4 1144.0 575.5 1142.4 576.6 1140.7C577.7 1139.0 578.7 1137.2 579.6 1135.4C580.6 1133.6 581.5 1131.7 582.3 1129.9C583.2 1128.0 584.0 1126.0 584.7 1124.1C585.4 1122.1 586.1 1120.2 586.8 1118.2C587.4 1116.2 588.0 1114.2 588.5 1112.2C589.1 1110.1 589.6 1108.1 590.0 1106.1C590.5 1104.1 590.9 1102.0 591.2 1100.0C591.6 1098.0 592.0 1095.9 592.3 1093.9C592.6 1091.8 592.9 1089.8 593.1 1087.8C593.4 1085.7 593.6 1083.6 593.8 1081.6C594.0 1079.5 594.2 1077.5 594.3 1075.4C594.5 1073.4 594.7 1071.3 594.8 1069.3C594.9 1067.2 595.0 1065.1 595.2 1063.1C595.3 1061.0 595.4 1059.0 595.5 1056.9C595.6 1054.9 595.7 1052.8 595.8 1050.8C595.9 1048.7 596.0 1046.7 596.1 1044.7C596.3 1042.6 596.4 1040.6 596.5 1038.6C596.6 1036.6 596.8 1034.5 596.9 1032.5C597.1 1030.5 597.3 1028.5 597.5 1026.5C597.7 1024.5 597.9 1022.5 598.2 1020.6C598.4 1018.6 598.7 1016.6 599.0 1014.6C599.3 1012.7 599.8 1009.8 600.0 1008.8C600.0 1009.8 600.2 1012.9 600.3 1014.9C600.3 1017.0 600.4 1019.0 600.5 1021.1C600.6 1023.1 600.7 1025.2 600.8 1027.2C600.9 1029.3 601.0 1031.3 601.1 1033.4C601.2 1035.4 601.4 1037.5 601.5 1039.5C601.6 1041.6 601.7 1043.6 601.8 1045.7C602.0 1047.8 602.1 1049.8 602.2 1051.9C602.4 1053.9 602.5 1056.0 602.7 1058.0C602.8 1060.1 603.0 1062.2 603.2 1064.2C603.3 1066.3 603.5 1068.3 603.7 1070.4C603.8 1072.4 604.0 1074.5 604.2 1076.5C604.4 1078.6 604.6 1080.6 604.8 1082.7C605.0 1084.7 605.3 1086.8 605.5 1088.8C605.7 1090.9 605.9 1092.9 606.2 1095.0C606.4 1097.0 606.7 1099.1 606.9 1101.1C607.2 1103.2 607.5 1105.2 607.8 1107.2C608.0 1109.3 608.3 1111.3 608.6 1113.4C608.9 1115.4 609.3 1117.4 609.6 1119.4C609.9 1121.5 610.2 1123.5 610.6 1125.5C610.9 1127.6 611.3 1129.6 611.7 1131.6C612.0 1133.6 612.4 1135.6 612.8 1137.6C613.2 1139.6 613.6 1141.6 614.1 1143.7C614.5 1145.7 614.9 1147.7 615.4 1149.7C615.8 1151.6 616.3 1153.6 616.7 1155.6C617.2 1157.6 617.7 1159.6 618.2 1161.6C618.7 1163.6 619.2 1165.5 619.8 1167.5C620.3 1169.5 620.9 1171.4 621.4 1173.4C622.0 1175.4 622.6 1177.3 623.2 1179.3C623.8 1181.2 624.4 1183.2 625.0 1185.1C625.6 1187.0 626.3 1189.0 627.0 1190.9C627.6 1192.8 628.3 1194.8 629.0 1196.7C629.7 1198.6 630.4 1200.5 631.1 1202.4C631.9 1204.3 632.6 1206.2 633.4 1208.1C634.2 1210.0 635.0 1211.9 635.8 1213.8C636.6 1215.6 637.4 1217.5 638.2 1219.4C639.1 1221.2 639.9 1223.1 640.8 1225.0C641.7 1226.8 642.6 1228.7 643.5 1230.5C644.4 1232.3 645.3 1234.2 646.3 1236.0C647.2 1237.8 648.1 1239.7 649.1 1241.5C650.1 1243.3 651.0 1245.1 652.0 1247.0C653.0 1248.8 654.0 1250.6 655.0 1252.4C656.0 1254.2 657.0 1256.0 658.0 1257.8C659.0 1259.6 660.0 1261.4 661.0 1263.2C662.1 1265.0 663.1 1266.8 664.1 1268.6C665.2 1270.4 666.2 1272.2 667.2 1274.0C668.3 1275.8 669.3 1277.6 670.4 1279.4C671.4 1281.1 672.5 1282.9 673.5 1284.7C674.6 1286.5 675.6 1288.3 676.7 1290.1C677.7 1291.9 678.7 1293.7 679.8 1295.4C680.8 1297.2 681.9 1299.0 682.9 1300.8C683.9 1302.6 685.0 1304.4 686.0 1306.2C687.0 1308.0 688.0 1309.8 689.0 1311.5C690.1 1313.3 691.1 1315.1 692.1 1316.9C693.1 1318.7 694.1 1320.5 695.0 1322.3C696.0 1324.1 697.0 1325.9 698.0 1327.7C699.0 1329.5 699.9 1331.3 700.9 1333.1C701.9 1335.0 702.8 1336.8 703.7 1338.6C704.7 1340.4 705.6 1342.2 706.6 1344.0C707.5 1345.9 708.4 1347.7 709.3 1349.5C710.2 1351.3 711.6 1354.1 712.0 1355.0" stroke="#ff0000" stroke-width="8.1"/>
<path d="M118.7 1300.3H777.0" stroke="#0000ff" stroke-width="8.1"/>
</g>
<g fill="#000">
<text transform="translate(95.53 1383.40) scale(0.9900 1)" font-family="Liberation Sans, Arial, Helvetica, sans-serif" font-weight="bold" font-size="40.70">10</text>
<text transform="translate(273.19 1383.40) scale(0.9900 1)" font-family="Liberation Sans, Arial, Helvetica, sans-serif" font-weight="bold" font-size="40.70">50</text>
<text transform="translate(478.53 1383.40) scale(0.9900 1)" font-family="Liberation Sans, Arial, Helvetica, sans-serif" font-weight="bold" font-size="40.70">100</text>
<text transform="translate(695.97 1383.40) scale(0.9900 1)" font-family="Liberation Sans, Arial, Helvetica, sans-serif" font-weight="bold" font-size="40.70">150</text>
<text transform="translate(54.69 1321.56) scale(0.9900 1)" font-family="Liberation Sans, Arial, Helvetica, sans-serif" font-weight="bold" font-size="40.70">10<tspan x="45.02" y="-22.90" font-family="Liberation Sans, Arial, Helvetica, sans-serif" font-weight="bold" font-size="24.37">3</tspan></text>
<text transform="translate(54.69 1200.85) scale(0.9900 1)" font-family="Liberation Sans, Arial, Helvetica, sans-serif" font-weight="bold" font-size="40.70">10<tspan x="45.19" y="-22.60" font-family="Liberation Sans, Arial, Helvetica, sans-serif" font-weight="bold" font-size="25.16">4</tspan></text>
<text transform="translate(54.69 1080.15) scale(0.9900 1)" font-family="Liberation Sans, Arial, Helvetica, sans-serif" font-weight="bold" font-size="40.70">10<tspan x="44.83" y="-22.85" font-family="Liberation Sans, Arial, Helvetica, sans-serif" font-weight="bold" font-size="24.80">5</tspan></text>
<text transform="translate(54.69 959.44) scale(0.9900 1)" font-family="Liberation Sans, Arial, Helvetica, sans-serif" font-weight="bold" font-size="40.70">10<tspan x="44.65" y="-22.84" font-family="Liberation Sans, Arial, Helvetica, sans-serif" font-weight="bold" font-size="24.45">6</tspan></text>
</g>
<g fill="none" stroke-linecap="round" stroke-width="8.4">
<path d="M139.6 937.3H181.8" stroke="#ff0000"/>
<path d="M139.6 981.8H181.8" stroke="#0000ff"/>
</g>
<g fill="#000">
<text transform="translate(202.20 943.10) scale(0.9999 1)" font-family="Liberation Sans, Arial, Helvetica, sans-serif" font-weight="bold" font-size="35.50">With SA (3 strips)</text>
<text transform="translate(202.20 987.50) scale(0.9815 1)" font-family="Liberation Sans, Arial, Helvetica, sans-serif" font-weight="bold" font-size="35.50">Without SA</text>
<text transform="translate(8.12 887.70) scale(1.0434 1)" font-family="Liberation Sans, Arial, Helvetica, sans-serif" font-weight="bold" font-size="59.00">(c)</text>
<text transform="translate(382.96 1416.90) scale(1.0427 1) skewX(-4.00)" font-family="Liberation Sans, Arial, Helvetica, sans-serif" font-weight="bold" font-style="italic" font-size="42.09">w<tspan x="32.02" y="7.34" font-family="Liberation Sans, Arial, Helvetica, sans-serif" font-weight="bold" font-style="italic" font-size="26.48">s</tspan></text>
<text transform="translate(443.00 1416.39) scale(1.0583 1)" font-family="Liberation Sans, Arial, Helvetica, sans-serif" font-weight="bold" font-size="41.50">(nm)</text>
<text transform="translate(38.10 1218.61) rotate(-90) scale(0.9403 1) skewX(-7.50)" font-family="Liberation Sans, Arial, Helvetica, sans-serif" font-weight="bold" font-style="italic" font-size="48.58">L<tspan x="32.56" y="7.42" font-family="Liberation Sans, Arial, Helvetica, sans-serif" font-weight="bold" font-style="italic" font-size="28.31">c</tspan></text>
<text transform="translate(37.54 1161.56) rotate(-90) scale(1.0133 1)" font-family="Liberation Sans, Arial, Helvetica, sans-serif" font-weight="bold" font-size="44.61">(<tspan x="14.25" y="-0.28" font-family="Liberation Serif, Times New Roman, serif" font-weight="normal" font-size="39.70">μ</tspan><tspan x="36.83" y="0.36" font-family="Liberation Sans, Arial, Helvetica, sans-serif" font-weight="bold" font-size="44.65">m</tspan><tspan x="78.21" y="0.00" font-family="Liberation Sans, Arial, Helvetica, sans-serif" font-weight="bold" font-size="44.61">)</tspan></text>
</g>
</g>
<g id="panel-d">
<clipPath id="clipd"><rect x="960.8" y="907.8" width="653.2" height="437.0"/></clipPath>
<path d="M1081.0 1342.5v-7.9M1258.6 1342.5v-7.9M1436.2 1342.5v-7.9M992.2 1342.5v-3.6M1169.8 1342.5v-3.6M1347.4 1342.5v-3.6M1525.0 1342.5v-3.6M962.6 1331.9h3.6M962.6 1323.0h3.6M962.6 1315.2h3.6M962.6 1308.4h3.6M962.6 1302.3h7.9M962.6 1262.1h3.6M962.6 1238.6h3.6M962.6 1221.9h3.6M962.6 1209.0h3.6M962.6 1198.4h3.6M962.6 1189.4h3.6M962.6 1181.7h3.6M962.6 1174.9h3.6M962.6 1168.8h7.9M962.6 1128.6h3.6M962.6 1105.1h3.6M962.6 1088.4h3.6M962.6 1075.4h3.6M962.6 1064.9h3.6M962.6 1055.9h3.6M962.6 1048.2h3.6M962.6 1041.3h3.6M962.6 1035.2h7.9M962.6 995.0h3.6M962.6 971.5h3.6M962.6 954.8h3.6M962.6 941.9h3.6M962.6 931.3h3.6M962.6 922.4h3.6M962.6 914.6h3.6" stroke="#000" stroke-width="4.4" stroke-linecap="round" fill="none"/>
<rect x="962.6" y="907.8" width="651.2" height="434.7" fill="none" stroke="#000" stroke-width="4.7" stroke-linejoin="round"/>
<g clip-path="url(#clipd)" fill="none" stroke-linejoin="round" stroke-miterlimit="4">
<path d="M958.7 1261.8L962.7 1259.8C963.6 1259.4 966.2 1258.0 968.0 1257.1C969.8 1256.2 971.6 1255.3 973.4 1254.4C975.2 1253.5 977.0 1252.6 978.8 1251.7C980.6 1250.8 982.4 1249.9 984.2 1249.0C986.0 1248.1 987.9 1247.2 989.7 1246.3C991.5 1245.4 993.4 1244.5 995.2 1243.6C997.0 1242.7 998.9 1241.7 1000.7 1240.8C1002.6 1239.9 1004.4 1239.0 1006.2 1238.0C1008.1 1237.1 1009.9 1236.2 1011.8 1235.2C1013.6 1234.3 1015.5 1233.3 1017.3 1232.4C1019.2 1231.4 1021.0 1230.5 1022.9 1229.5C1024.7 1228.5 1026.6 1227.6 1028.4 1226.6C1030.3 1225.6 1032.1 1224.6 1033.9 1223.6C1035.8 1222.7 1037.6 1221.7 1039.4 1220.7C1041.3 1219.6 1043.1 1218.6 1044.9 1217.6C1046.7 1216.6 1048.6 1215.6 1050.4 1214.5C1052.2 1213.5 1054.0 1212.4 1055.8 1211.4C1057.6 1210.3 1059.4 1209.3 1061.2 1208.2C1062.9 1207.1 1064.7 1206.0 1066.5 1204.9C1068.3 1203.8 1070.0 1202.7 1071.8 1201.6C1073.5 1200.5 1075.3 1199.3 1077.0 1198.2C1078.7 1197.1 1080.4 1195.9 1082.1 1194.7C1083.8 1193.6 1085.5 1192.4 1087.2 1191.2C1088.9 1190.0 1090.6 1188.8 1092.2 1187.6C1093.9 1186.4 1095.5 1185.1 1097.2 1183.9C1098.8 1182.6 1100.4 1181.4 1102.0 1180.1C1103.6 1178.8 1105.2 1177.6 1106.8 1176.2C1108.3 1174.9 1109.9 1173.6 1111.4 1172.3C1113.0 1171.0 1114.5 1169.6 1116.0 1168.2C1117.5 1166.9 1119.0 1165.5 1120.4 1164.1C1121.9 1162.7 1123.3 1161.3 1124.8 1159.9C1126.2 1158.4 1127.6 1157.0 1129.0 1155.5C1130.4 1154.0 1131.7 1152.6 1133.1 1151.1C1134.4 1149.5 1135.7 1148.0 1137.0 1146.5C1138.3 1144.9 1139.6 1143.4 1140.9 1141.8C1142.1 1140.2 1143.3 1138.6 1144.5 1137.0C1145.8 1135.4 1146.9 1133.8 1148.1 1132.1C1149.2 1130.4 1150.4 1128.8 1151.5 1127.1C1152.6 1125.4 1153.6 1123.6 1154.7 1121.9C1155.8 1120.2 1156.8 1118.4 1157.8 1116.6C1158.8 1114.8 1159.8 1113.0 1160.7 1111.2C1161.7 1109.4 1162.6 1107.6 1163.5 1105.8C1164.4 1103.9 1165.3 1102.0 1166.1 1100.2C1167.0 1098.3 1167.8 1096.4 1168.6 1094.5C1169.4 1092.6 1170.2 1090.7 1170.9 1088.8C1171.7 1086.9 1172.4 1084.9 1173.1 1083.0C1173.8 1081.0 1174.5 1079.1 1175.1 1077.1C1175.8 1075.1 1176.4 1073.2 1177.0 1071.2C1177.6 1069.2 1178.2 1067.2 1178.8 1065.2C1179.3 1063.2 1179.9 1061.2 1180.4 1059.2C1180.9 1057.2 1181.4 1055.1 1181.9 1053.1C1182.3 1051.1 1182.8 1049.1 1183.2 1047.0C1183.6 1045.0 1184.0 1043.0 1184.4 1040.9C1184.8 1038.9 1185.1 1036.9 1185.5 1034.8C1185.8 1032.8 1186.1 1030.8 1186.4 1028.7C1186.7 1026.7 1187.1 1023.6 1187.2 1022.6C1188.3 1020.9 1192.1 1015.3 1194.1 1012.2C1196.1 1009.1 1198.5 1005.5 1199.4 1004.2C1199.6 1005.2 1200.3 1008.1 1200.7 1010.1C1201.1 1012.1 1201.5 1014.1 1201.8 1016.1C1202.1 1018.2 1202.4 1020.2 1202.7 1022.2C1203.0 1024.2 1203.2 1026.3 1203.5 1028.3C1203.7 1030.4 1204.0 1032.4 1204.2 1034.5C1204.4 1036.5 1204.6 1038.6 1204.8 1040.6C1205.1 1042.7 1205.3 1044.7 1205.5 1046.8C1205.8 1048.8 1206.0 1050.9 1206.3 1052.9C1206.6 1055.0 1206.9 1057.0 1207.2 1059.0C1207.6 1061.0 1207.9 1063.1 1208.3 1065.1C1208.7 1067.1 1209.2 1069.1 1209.7 1071.1C1210.2 1073.1 1210.7 1075.0 1211.3 1077.0C1211.9 1078.9 1212.5 1080.9 1213.2 1082.8C1213.9 1084.7 1214.6 1086.7 1215.4 1088.6C1216.2 1090.4 1217.0 1092.3 1217.9 1094.2C1218.7 1096.0 1219.7 1097.9 1220.6 1099.7C1221.6 1101.5 1222.5 1103.3 1223.6 1105.1C1224.6 1106.9 1225.7 1108.6 1226.8 1110.4C1227.9 1112.1 1229.0 1113.8 1230.2 1115.5C1231.3 1117.2 1232.5 1118.9 1233.8 1120.5C1235.0 1122.2 1236.3 1123.8 1237.6 1125.4C1238.9 1126.9 1240.2 1128.5 1241.6 1130.0C1242.9 1131.6 1244.3 1133.1 1245.7 1134.6C1247.1 1136.0 1248.6 1137.5 1250.0 1138.9C1251.5 1140.3 1253.0 1141.7 1254.5 1143.1C1256.0 1144.4 1257.5 1145.7 1259.1 1147.0C1260.6 1148.3 1262.2 1149.6 1263.8 1150.8C1265.4 1152.1 1267.0 1153.3 1268.6 1154.5C1270.2 1155.7 1271.9 1156.8 1273.6 1157.9C1275.2 1159.1 1276.9 1160.2 1278.7 1161.2C1280.4 1162.3 1282.1 1163.3 1283.8 1164.4C1285.6 1165.4 1287.4 1166.4 1289.1 1167.3C1290.9 1168.3 1292.7 1169.2 1294.5 1170.1C1296.3 1171.1 1298.2 1171.9 1300.0 1172.8C1301.9 1173.7 1303.7 1174.5 1305.6 1175.3C1307.5 1176.1 1309.4 1176.9 1311.3 1177.7C1313.2 1178.4 1315.1 1179.2 1317.0 1179.9C1318.9 1180.6 1320.9 1181.3 1322.8 1182.0C1324.8 1182.6 1326.8 1183.3 1328.7 1183.9C1330.7 1184.5 1332.7 1185.1 1334.7 1185.7C1336.7 1186.3 1338.7 1186.8 1340.7 1187.4C1342.7 1187.9 1344.7 1188.4 1346.8 1188.9C1348.8 1189.4 1350.8 1189.9 1352.9 1190.3C1354.9 1190.8 1357.0 1191.2 1359.0 1191.6C1361.1 1192.0 1363.2 1192.4 1365.2 1192.8C1367.3 1193.2 1369.4 1193.5 1371.5 1193.8C1373.5 1194.2 1375.6 1194.5 1377.7 1194.8C1379.8 1195.1 1381.9 1195.3 1384.0 1195.6C1386.1 1195.8 1388.2 1196.0 1390.2 1196.2C1392.3 1196.3 1394.4 1196.4 1396.4 1196.5C1398.5 1196.6 1400.5 1196.6 1402.6 1196.5C1404.6 1196.5 1406.6 1196.4 1408.6 1196.2C1410.6 1196.0 1412.6 1195.8 1414.5 1195.5C1416.5 1195.2 1418.4 1194.8 1420.3 1194.3C1422.2 1193.9 1424.1 1193.3 1425.9 1192.7C1427.8 1192.0 1429.6 1191.3 1431.4 1190.4C1433.1 1189.6 1434.9 1188.7 1436.6 1187.6C1438.3 1186.6 1439.9 1185.5 1441.5 1184.3C1443.1 1183.1 1444.7 1181.8 1446.2 1180.5C1447.7 1179.1 1449.1 1177.7 1450.5 1176.2C1451.9 1174.7 1453.2 1173.2 1454.5 1171.6C1455.7 1170.0 1456.9 1168.4 1458.0 1166.7C1459.1 1165.0 1460.1 1163.3 1461.1 1161.5C1462.1 1159.7 1463.0 1157.9 1463.9 1156.1C1464.7 1154.3 1465.5 1152.4 1466.2 1150.5C1467.0 1148.6 1467.7 1146.7 1468.3 1144.7C1469.0 1142.8 1469.5 1140.8 1470.1 1138.8C1470.7 1136.8 1471.2 1134.8 1471.6 1132.7C1472.1 1130.7 1472.6 1128.6 1473.0 1126.5C1473.4 1124.5 1473.8 1122.4 1474.1 1120.3C1474.5 1118.2 1474.8 1116.1 1475.1 1114.0C1475.5 1111.9 1475.8 1109.8 1476.1 1107.7C1476.3 1105.6 1476.6 1103.5 1476.9 1101.4C1477.2 1099.3 1477.4 1097.2 1477.7 1095.1C1478.0 1093.0 1478.2 1090.9 1478.5 1088.9C1478.8 1086.8 1479.1 1084.8 1479.4 1082.7C1479.7 1080.7 1479.9 1078.7 1480.3 1076.7C1480.6 1074.7 1480.9 1072.7 1481.3 1070.8C1481.7 1068.8 1482.0 1066.9 1482.5 1065.0C1482.9 1063.1 1483.6 1060.3 1483.8 1059.4C1483.8 1060.4 1484.0 1063.5 1484.0 1065.6C1484.1 1067.6 1484.2 1069.7 1484.3 1071.8C1484.4 1073.8 1484.6 1075.9 1484.7 1077.9C1484.8 1080.0 1484.9 1082.0 1485.1 1084.1C1485.2 1086.1 1485.4 1088.2 1485.6 1090.2C1485.7 1092.3 1485.9 1094.3 1486.1 1096.4C1486.3 1098.4 1486.5 1100.5 1486.7 1102.5C1486.9 1104.6 1487.1 1106.6 1487.3 1108.7C1487.5 1110.7 1487.7 1112.7 1488.0 1114.8C1488.2 1116.8 1488.5 1118.8 1488.7 1120.9C1489.0 1122.9 1489.2 1124.9 1489.5 1127.0C1489.8 1129.0 1490.1 1131.0 1490.4 1133.1C1490.7 1135.1 1491.0 1137.1 1491.3 1139.1C1491.6 1141.2 1491.9 1143.2 1492.3 1145.2C1492.6 1147.2 1493.0 1149.2 1493.3 1151.3C1493.7 1153.3 1494.0 1155.3 1494.4 1157.3C1494.8 1159.3 1495.1 1161.3 1495.5 1163.3C1495.9 1165.3 1496.3 1167.3 1496.7 1169.4C1497.1 1171.4 1497.6 1173.4 1498.0 1175.4C1498.4 1177.4 1498.9 1179.4 1499.3 1181.4C1499.8 1183.3 1500.2 1185.3 1500.7 1187.3C1501.1 1189.3 1501.6 1191.3 1502.1 1193.3C1502.6 1195.3 1503.1 1197.3 1503.6 1199.3C1504.1 1201.2 1504.6 1203.2 1505.1 1205.2C1505.7 1207.2 1506.2 1209.2 1506.7 1211.1C1507.3 1213.1 1507.8 1215.1 1508.4 1217.0C1508.9 1219.0 1509.5 1221.0 1510.1 1222.9C1510.7 1224.9 1511.3 1226.9 1511.9 1228.8C1512.5 1230.8 1513.1 1232.7 1513.7 1234.7C1514.3 1236.7 1514.9 1238.6 1515.6 1240.6C1516.2 1242.5 1516.8 1244.5 1517.5 1246.4C1518.2 1248.3 1518.8 1250.3 1519.5 1252.2C1520.1 1254.2 1520.8 1256.1 1521.5 1258.0C1522.2 1260.0 1522.9 1261.9 1523.6 1263.8C1524.3 1265.8 1525.0 1267.7 1525.7 1269.6C1526.4 1271.6 1527.1 1273.5 1527.8 1275.4C1528.6 1277.3 1529.3 1279.3 1530.0 1281.2C1530.8 1283.1 1531.5 1285.0 1532.2 1286.9C1533.0 1288.8 1533.7 1290.8 1534.5 1292.7C1535.3 1294.6 1536.0 1296.5 1536.8 1298.4C1537.6 1300.3 1538.3 1302.2 1539.1 1304.1C1539.9 1306.0 1540.7 1307.9 1541.5 1309.8C1542.3 1311.7 1543.0 1313.6 1543.8 1315.5C1544.6 1317.4 1545.4 1319.3 1546.2 1321.2C1547.0 1323.1 1547.9 1324.9 1548.7 1326.8C1549.5 1328.7 1550.3 1330.6 1551.1 1332.5C1551.9 1334.4 1552.7 1336.3 1553.6 1338.1C1554.4 1340.0 1555.2 1341.9 1556.0 1343.8C1556.8 1345.6 1557.7 1347.5 1558.5 1349.4C1559.3 1351.3 1560.6 1354.1 1561.0 1355.0" stroke="#ff0000" stroke-width="8.1"/>
<path d="M959.6 1296.6H1616.8" stroke="#0000ff" stroke-width="8.1"/>
</g>
<g fill="#000">
<text transform="translate(934.08 1382.30) scale(0.9900 1)" font-family="Liberation Sans, Arial, Helvetica, sans-serif" font-weight="bold" font-size="40.70">10</text>
<text transform="translate(1057.49 1382.30) scale(0.9900 1)" font-family="Liberation Sans, Arial, Helvetica, sans-serif" font-weight="bold" font-size="40.70">30</text>
<text transform="translate(1235.79 1382.30) scale(0.9900 1)" font-family="Liberation Sans, Arial, Helvetica, sans-serif" font-weight="bold" font-size="40.70">60</text>
<text transform="translate(1413.44 1382.30) scale(0.9900 1)" font-family="Liberation Sans, Arial, Helvetica, sans-serif" font-weight="bold" font-size="40.70">90</text>
<text transform="translate(1579.25 1382.30) scale(0.9900 1)" font-family="Liberation Sans, Arial, Helvetica, sans-serif" font-weight="bold" font-size="40.70">120</text>
<text transform="translate(895.59 1317.60) scale(0.9900 1)" font-family="Liberation Sans, Arial, Helvetica, sans-serif" font-weight="bold" font-size="40.70">10<tspan x="45.02" y="-22.90" font-family="Liberation Sans, Arial, Helvetica, sans-serif" font-weight="bold" font-size="24.37">3</tspan></text>
<text transform="translate(895.59 1184.06) scale(0.9900 1)" font-family="Liberation Sans, Arial, Helvetica, sans-serif" font-weight="bold" font-size="40.70">10<tspan x="45.19" y="-22.60" font-family="Liberation Sans, Arial, Helvetica, sans-serif" font-weight="bold" font-size="25.16">4</tspan></text>
<text transform="translate(895.59 1050.53) scale(0.9900 1)" font-family="Liberation Sans, Arial, Helvetica, sans-serif" font-weight="bold" font-size="40.70">10<tspan x="44.83" y="-22.85" font-family="Liberation Sans, Arial, Helvetica, sans-serif" font-weight="bold" font-size="24.80">5</tspan></text>
</g>
<g fill="none" stroke-linecap="round" stroke-width="8.4">
<path d="M982.3 939.6H1023.8" stroke="#ff0000"/>
<path d="M982.3 984.1H1023.8" stroke="#0000ff"/>
</g>
<g fill="#000">
<text transform="translate(1044.20 944.90) scale(1.0002 1)" font-family="Liberation Sans, Arial, Helvetica, sans-serif" font-weight="bold" font-size="35.50">With SA (4 strips)</text>
<text transform="translate(1044.20 989.40) scale(0.9852 1)" font-family="Liberation Sans, Arial, Helvetica, sans-serif" font-weight="bold" font-size="35.50">Without SA</text>
<text transform="translate(834.95 888.60) scale(1.0335 1)" font-family="Liberation Sans, Arial, Helvetica, sans-serif" font-weight="bold" font-size="59.00">(d)</text>
<text transform="translate(1217.96 1421.10) scale(1.0427 1) skewX(-4.00)" font-family="Liberation Sans, Arial, Helvetica, sans-serif" font-weight="bold" font-style="italic" font-size="42.09">w<tspan x="32.02" y="7.34" font-family="Liberation Sans, Arial, Helvetica, sans-serif" font-weight="bold" font-style="italic" font-size="26.48">s</tspan></text>
<text transform="translate(1278.00 1420.59) scale(1.0583 1)" font-family="Liberation Sans, Arial, Helvetica, sans-serif" font-weight="bold" font-size="41.50">(nm)</text>
<text transform="translate(879.70 1205.21) rotate(-90) scale(0.9403 1) skewX(-7.50)" font-family="Liberation Sans, Arial, Helvetica, sans-serif" font-weight="bold" font-style="italic" font-size="48.58">L<tspan x="32.56" y="7.42" font-family="Liberation Sans, Arial, Helvetica, sans-serif" font-weight="bold" font-style="italic" font-size="28.31">c</tspan></text>
<text transform="translate(879.14 1148.16) rotate(-90) scale(1.0133 1)" font-family="Liberation Sans, Arial, Helvetica, sans-serif" font-weight="bold" font-size="44.61">(<tspan x="14.25" y="-0.28" font-family="Liberation Serif, Times New Roman, serif" font-weight="normal" font-size="39.70">μ</tspan><tspan x="36.83" y="0.36" font-family="Liberation Sans, Arial, Helvetica, sans-serif" font-weight="bold" font-size="44.65">m</tspan><tspan x="78.21" y="0.00" font-family="Liberation Sans, Arial, Helvetica, sans-serif" font-weight="bold" font-size="44.61">)</tspan></text>
</g>
</g>
<g id="map-a-sym">
<g filter="url(#jet)">
<svg x="51.0" y="634.0" width="360.4" height="145.3" viewBox="0 0 360.4 145.3" overflow="hidden">
<rect x="-2" y="-2" width="364.4" height="149.3" fill="#808080"/>
<ellipse cx="92.0" cy="82.0" rx="190.0" ry="146.0" fill="url(#gneg-tail)" opacity="1.00"/>
<ellipse cx="92.0" cy="79.0" rx="80.0" ry="50.0" fill="url(#gneg)" opacity="1.000"/>
<ellipse cx="269.0" cy="82.0" rx="190.0" ry="146.0" fill="url(#gneg-tail)" opacity="1.00"/>
<ellipse cx="269.0" cy="79.0" rx="80.0" ry="50.0" fill="url(#gneg)" opacity="1.000"/>
<rect x="48.4" y="58.7" width="88.5" height="38.9" fill="url(#wgdamp)"/>
<rect x="224.7" y="58.7" width="88.4" height="38.9" fill="url(#wgdamp)"/>
<rect x="170.5" y="58.7" width="21.3" height="38.9" fill="#808080" opacity="0.75"/>
</svg></g>
<path d="M51.0 731.6H411.4M99.4 731.6V692.7H187.9V731.6M275.7 731.6V692.7H364.1V731.6M221.5 731.6V692.7H242.8V731.6" fill="none" stroke="#061806" stroke-opacity="0.72" stroke-width="2.10"/>
<g fill="#000"><text transform="translate(146.54 672.90) scale(0.9913 1)" font-family="Liberation Sans, Arial, Helvetica, sans-serif" font-weight="bold" font-size="35.50">Symmetric</text></g>
</g>
<g id="map-a-anti">
<g filter="url(#jet)">
<svg x="428.5" y="634.0" width="360.4" height="145.3" viewBox="0 0 360.4 145.3" overflow="hidden">
<rect x="-2" y="-2" width="364.4" height="149.3" fill="#808080"/>
<ellipse cx="92.0" cy="82.0" rx="190.0" ry="146.0" fill="url(#gneg-tail)" opacity="0.70"/>
<ellipse cx="92.0" cy="79.0" rx="80.0" ry="50.0" fill="url(#gneg)" opacity="1.000"/>
<ellipse cx="269.0" cy="82.0" rx="190.0" ry="146.0" fill="url(#gpos-tail)" opacity="0.70"/>
<ellipse cx="269.0" cy="79.0" rx="80.0" ry="50.0" fill="url(#gpos)" opacity="0.970"/>
<rect x="48.4" y="58.7" width="88.5" height="38.9" fill="url(#wgdamp)"/>
<rect x="224.7" y="58.7" width="88.4" height="38.9" fill="url(#wgdamp)"/>
<rect x="170.5" y="58.7" width="21.3" height="38.9" fill="#808080" opacity="0.75"/>
</svg></g>
<path d="M428.5 731.6H788.9M476.9 731.6V692.7H565.4V731.6M653.2 731.6V692.7H741.6V731.6M599.0 731.6V692.7H620.3V731.6" fill="none" stroke="#061806" stroke-opacity="0.72" stroke-width="2.10"/>
<g fill="#000"><text transform="translate(465.12 673.20) scale(0.9919 1)" font-family="Liberation Sans, Arial, Helvetica, sans-serif" font-weight="bold" font-size="35.50">Anti-symmetric</text></g>
</g>
<g id="map-b-sym">
<g filter="url(#jet)">
<svg x="891.0" y="634.0" width="360.4" height="145.3" viewBox="0 0 360.4 145.3" overflow="hidden">
<rect x="-2" y="-2" width="364.4" height="149.3" fill="#808080"/>
<ellipse cx="92.0" cy="82.0" rx="190.0" ry="146.0" fill="url(#gneg-tail)" opacity="1.00"/>
<ellipse cx="92.0" cy="79.0" rx="80.0" ry="50.0" fill="url(#gneg)" opacity="0.830"/>
<ellipse cx="269.0" cy="82.0" rx="190.0" ry="146.0" fill="url(#gneg-tail)" opacity="1.00"/>
<ellipse cx="269.0" cy="79.0" rx="80.0" ry="50.0" fill="url(#gneg)" opacity="0.830"/>
<rect x="136.5" y="53.7" width="14.5" height="44.5" fill="url(#gneg-gap)" opacity="0.330"/>
<rect x="210.2" y="53.7" width="14.3" height="44.5" fill="url(#gneg-gap)" opacity="0.330"/>
<rect x="48.4" y="58.7" width="88.5" height="38.9" fill="url(#wgdamp)"/>
<rect x="224.7" y="58.7" width="88.4" height="38.9" fill="url(#wgdamp)"/>
<rect x="151.0" y="58.7" width="22.6" height="38.9" fill="#808080" opacity="0.75"/>
<rect x="187.5" y="58.7" width="22.7" height="38.9" fill="#808080" opacity="0.75"/>
</svg></g>
<path d="M891.0 731.6H1251.4M939.4 731.6V692.7H1027.9V731.6M1115.7 731.6V692.7H1204.1V731.6M1042.0 731.6V692.7H1064.6V731.6M1078.5 731.6V692.7H1101.2V731.6" fill="none" stroke="#061806" stroke-opacity="0.72" stroke-width="2.10"/>
<g fill="#000"><text transform="translate(990.14 673.20) scale(0.9930 1)" font-family="Liberation Sans, Arial, Helvetica, sans-serif" font-weight="bold" font-size="35.50">Symmetric</text></g>
</g>
<g id="map-b-anti">
<g filter="url(#jet)">
<svg x="1269.0" y="634.0" width="360.4" height="145.3" viewBox="0 0 360.4 145.3" overflow="hidden">
<rect x="-2" y="-2" width="364.4" height="149.3" fill="#808080"/>
<ellipse cx="92.0" cy="82.0" rx="190.0" ry="146.0" fill="url(#gneg-tail)" opacity="0.70"/>
<ellipse cx="92.0" cy="79.0" rx="80.0" ry="50.0" fill="url(#gneg)" opacity="0.830"/>
<ellipse cx="269.0" cy="82.0" rx="190.0" ry="146.0" fill="url(#gpos-tail)" opacity="0.70"/>
<ellipse cx="269.0" cy="79.0" rx="80.0" ry="50.0" fill="url(#gpos)" opacity="0.805"/>
<rect x="136.5" y="53.7" width="14.5" height="44.5" fill="url(#gneg-gap)" opacity="0.330"/>
<rect x="210.2" y="53.7" width="14.3" height="44.5" fill="url(#gpos-gap)" opacity="0.330"/>
<rect x="48.4" y="58.7" width="88.5" height="38.9" fill="url(#wgdamp)"/>
<rect x="224.7" y="58.7" width="88.4" height="38.9" fill="url(#wgdamp)"/>
<rect x="151.0" y="58.7" width="22.6" height="38.9" fill="#808080" opacity="0.75"/>
<rect x="187.5" y="58.7" width="22.7" height="38.9" fill="#808080" opacity="0.75"/>
</svg></g>
<path d="M1269.0 731.6H1629.4M1317.4 731.6V692.7H1405.9V731.6M1493.7 731.6V692.7H1582.1V731.6M1420.0 731.6V692.7H1442.6V731.6M1456.5 731.6V692.7H1479.2V731.6" fill="none" stroke="#061806" stroke-opacity="0.72" stroke-width="2.10"/>
<g fill="#000"><text transform="translate(1309.72 673.20) scale(0.9876 1)" font-family="Liberation Sans, Arial, Helvetica, sans-serif" font-weight="bold" font-size="35.50">Anti-symmetric</text></g>
</g>
<g id="map-c-sym">
<g filter="url(#jet)">
<svg x="51.0" y="1458.0" width="360.4" height="145.3" viewBox="0 0 360.4 145.3" overflow="hidden">
<rect x="-2" y="-2" width="364.4" height="149.3" fill="#808080"/>
<ellipse cx="92.0" cy="82.0" rx="190.0" ry="146.0" fill="url(#gneg-tail)" opacity="1.00"/>
<ellipse cx="92.0" cy="79.0" rx="80.0" ry="50.0" fill="url(#gneg)" opacity="0.830"/>
<ellipse cx="269.0" cy="82.0" rx="190.0" ry="146.0" fill="url(#gneg-tail)" opacity="1.00"/>
<ellipse cx="269.0" cy="79.0" rx="80.0" ry="50.0" fill="url(#gneg)" opacity="0.830"/>
<rect x="136.5" y="53.7" width="11.5" height="44.5" fill="url(#gneg-gap)" opacity="0.360"/>
<rect x="213.0" y="53.7" width="11.5" height="44.5" fill="url(#gneg-gap)" opacity="0.360"/>
<rect x="48.4" y="58.7" width="88.5" height="38.9" fill="url(#wgdamp)"/>
<rect x="224.7" y="58.7" width="88.4" height="38.9" fill="url(#wgdamp)"/>
<rect x="148.0" y="58.7" width="14.0" height="38.9" fill="#808080" opacity="0.75"/>
<rect x="173.7" y="58.7" width="13.8" height="38.9" fill="#808080" opacity="0.75"/>
<rect x="198.9" y="58.7" width="14.1" height="38.9" fill="#808080" opacity="0.75"/>
</svg></g>
<path d="M51.0 1555.6H411.4M99.4 1555.6V1516.7H187.9V1555.6M275.7 1555.6V1516.7H364.1V1555.6M199.0 1555.6V1516.7H213.0V1555.6M224.7 1555.6V1516.7H238.5V1555.6M249.9 1555.6V1516.7H264.0V1555.6" fill="none" stroke="#061806" stroke-opacity="0.72" stroke-width="2.10"/>
<g fill="#000"><text transform="translate(147.75 1495.40) scale(0.9886 1)" font-family="Liberation Sans, Arial, Helvetica, sans-serif" font-weight="bold" font-size="35.50">Symmetric</text></g>
</g>
<g id="map-c-anti">
<g filter="url(#jet)">
<svg x="428.5" y="1458.0" width="360.4" height="145.3" viewBox="0 0 360.4 145.3" overflow="hidden">
<rect x="-2" y="-2" width="364.4" height="149.3" fill="#808080"/>
<ellipse cx="92.0" cy="82.0" rx="190.0" ry="146.0" fill="url(#gneg-tail)" opacity="0.70"/>
<ellipse cx="92.0" cy="79.0" rx="80.0" ry="50.0" fill="url(#gneg)" opacity="0.830"/>
<ellipse cx="269.0" cy="82.0" rx="190.0" ry="146.0" fill="url(#gpos-tail)" opacity="0.70"/>
<ellipse cx="269.0" cy="79.0" rx="80.0" ry="50.0" fill="url(#gpos)" opacity="0.805"/>
<rect x="136.5" y="53.7" width="11.5" height="44.5" fill="url(#gneg-gap)" opacity="0.360"/>
<rect x="213.0" y="53.7" width="11.5" height="44.5" fill="url(#gpos-gap)" opacity="0.360"/>
<rect x="48.4" y="58.7" width="88.5" height="38.9" fill="url(#wgdamp)"/>
<rect x="224.7" y="58.7" width="88.4" height="38.9" fill="url(#wgdamp)"/>
<rect x="148.0" y="58.7" width="14.0" height="38.9" fill="#808080" opacity="0.75"/>
<rect x="173.7" y="58.7" width="13.8" height="38.9" fill="#808080" opacity="0.75"/>
<rect x="198.9" y="58.7" width="14.1" height="38.9" fill="#808080" opacity="0.75"/>
</svg></g>
<path d="M428.5 1555.6H788.9M476.9 1555.6V1516.7H565.4V1555.6M653.2 1555.6V1516.7H741.6V1555.6M576.5 1555.6V1516.7H590.5V1555.6M602.2 1555.6V1516.7H616.0V1555.6M627.4 1555.6V1516.7H641.5V1555.6" fill="none" stroke="#061806" stroke-opacity="0.72" stroke-width="2.10"/>
<g fill="#000"><text transform="translate(466.12 1495.50) scale(0.9919 1)" font-family="Liberation Sans, Arial, Helvetica, sans-serif" font-weight="bold" font-size="35.50">Anti-symmetric</text></g>
</g>
<g id="map-d-sym">
<g filter="url(#jet)">
<svg x="891.0" y="1458.0" width="360.4" height="145.3" viewBox="0 0 360.4 145.3" overflow="hidden">
<rect x="-2" y="-2" width="364.4" height="149.3" fill="#808080"/>
<ellipse cx="92.0" cy="82.0" rx="190.0" ry="146.0" fill="url(#gneg-tail)" opacity="1.00"/>
<ellipse cx="92.0" cy="79.0" rx="80.0" ry="50.0" fill="url(#gneg)" opacity="0.830"/>
<ellipse cx="269.0" cy="82.0" rx="190.0" ry="146.0" fill="url(#gneg-tail)" opacity="1.00"/>
<ellipse cx="269.0" cy="79.0" rx="80.0" ry="50.0" fill="url(#gneg)" opacity="0.830"/>
<rect x="136.5" y="53.7" width="11.0" height="44.5" fill="url(#gneg-gap)" opacity="0.380"/>
<rect x="214.2" y="53.7" width="10.3" height="44.5" fill="url(#gneg-gap)" opacity="0.380"/>
<rect x="48.4" y="58.7" width="88.5" height="38.9" fill="url(#wgdamp)"/>
<rect x="224.7" y="58.7" width="88.4" height="38.9" fill="url(#wgdamp)"/>
<rect x="147.5" y="58.7" width="8.5" height="38.9" fill="#808080" opacity="0.75"/>
<rect x="166.9" y="58.7" width="8.5" height="38.9" fill="#808080" opacity="0.75"/>
<rect x="185.8" y="58.7" width="9.0" height="38.9" fill="#808080" opacity="0.75"/>
<rect x="205.2" y="58.7" width="9.0" height="38.9" fill="#808080" opacity="0.75"/>
</svg></g>
<path d="M891.0 1555.6H1251.4M939.4 1555.6V1516.7H1027.9V1555.6M1115.7 1555.6V1516.7H1204.1V1555.6M1038.5 1555.6V1516.7H1047.0V1555.6M1057.9 1555.6V1516.7H1066.4V1555.6M1076.8 1555.6V1516.7H1085.8V1555.6M1096.2 1555.6V1516.7H1105.2V1555.6" fill="none" stroke="#061806" stroke-opacity="0.72" stroke-width="2.10"/>
<g fill="#000"><text transform="translate(990.14 1495.40) scale(0.9930 1)" font-family="Liberation Sans, Arial, Helvetica, sans-serif" font-weight="bold" font-size="35.50">Symmetric</text></g>
</g>
<g id="map-d-anti">
<g filter="url(#jet)">
<svg x="1269.0" y="1458.0" width="360.4" height="145.3" viewBox="0 0 360.4 145.3" overflow="hidden">
<rect x="-2" y="-2" width="364.4" height="149.3" fill="#808080"/>
<ellipse cx="92.0" cy="82.0" rx="190.0" ry="146.0" fill="url(#gneg-tail)" opacity="0.70"/>
<ellipse cx="92.0" cy="79.0" rx="80.0" ry="50.0" fill="url(#gneg)" opacity="0.830"/>
<ellipse cx="269.0" cy="82.0" rx="190.0" ry="146.0" fill="url(#gpos-tail)" opacity="0.70"/>
<ellipse cx="269.0" cy="79.0" rx="80.0" ry="50.0" fill="url(#gpos)" opacity="0.805"/>
<rect x="136.5" y="53.7" width="11.0" height="44.5" fill="url(#gneg-gap)" opacity="0.380"/>
<rect x="214.2" y="53.7" width="10.3" height="44.5" fill="url(#gpos-gap)" opacity="0.380"/>
<rect x="48.4" y="58.7" width="88.5" height="38.9" fill="url(#wgdamp)"/>
<rect x="224.7" y="58.7" width="88.4" height="38.9" fill="url(#wgdamp)"/>
<rect x="147.5" y="58.7" width="8.5" height="38.9" fill="#808080" opacity="0.75"/>
<rect x="166.9" y="58.7" width="8.5" height="38.9" fill="#808080" opacity="0.75"/>
<rect x="185.8" y="58.7" width="9.0" height="38.9" fill="#808080" opacity="0.75"/>
<rect x="205.2" y="58.7" width="9.0" height="38.9" fill="#808080" opacity="0.75"/>
</svg></g>
<path d="M1269.0 1555.6H1629.4M1317.4 1555.6V1516.7H1405.9V1555.6M1493.7 1555.6V1516.7H1582.1V1555.6M1416.5 1555.6V1516.7H1425.0V1555.6M1435.9 1555.6V1516.7H1444.4V1555.6M1454.8 1555.6V1516.7H1463.8V1555.6M1474.2 1555.6V1516.7H1483.2V1555.6" fill="none" stroke="#061806" stroke-opacity="0.72" stroke-width="2.10"/>
<g fill="#000"><text transform="translate(1309.72 1495.50) scale(0.9876 1)" font-family="Liberation Sans, Arial, Helvetica, sans-serif" font-weight="bold" font-size="35.50">Anti-symmetric</text></g>
</g>
</svg></body></html>
